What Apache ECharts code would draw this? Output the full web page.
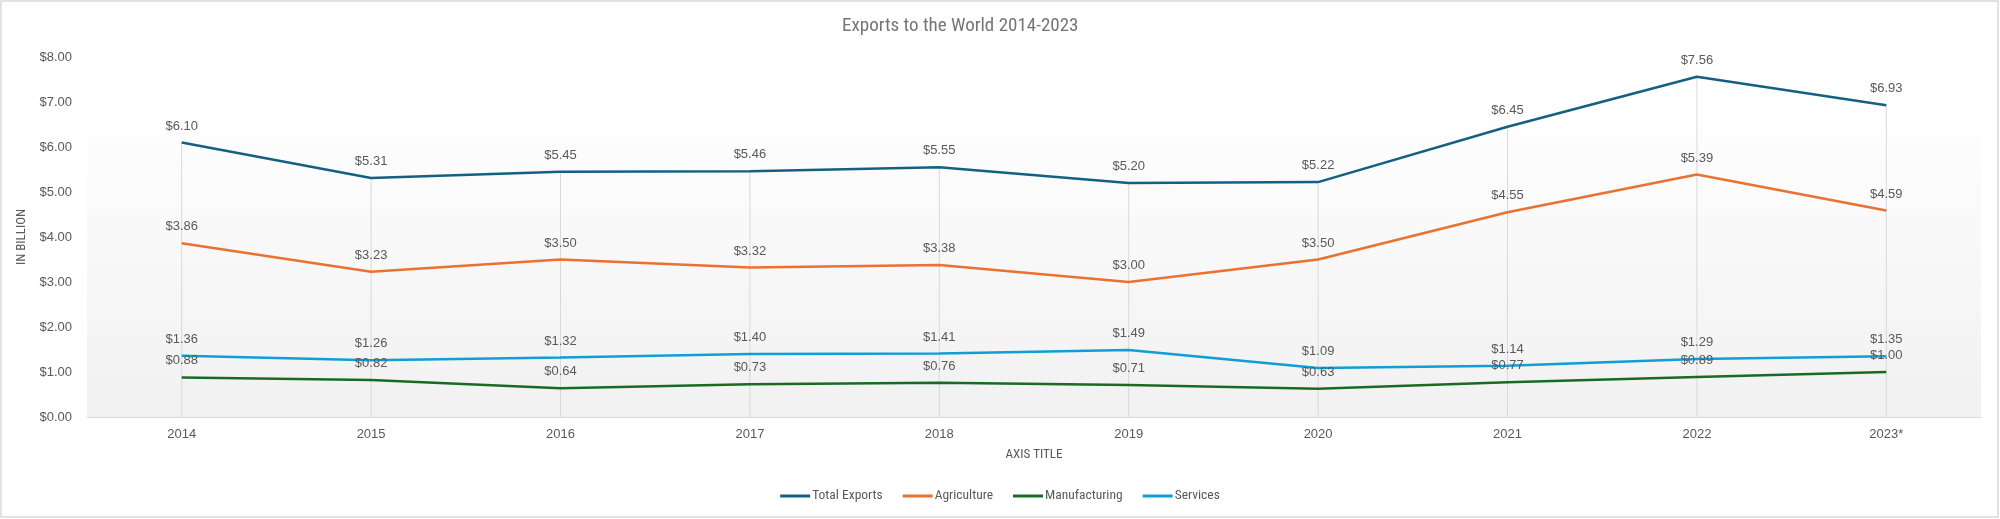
<!DOCTYPE html>
<html>
<head>
<meta charset="utf-8">
<script src="https://cdn.jsdelivr.net/npm/echarts@6/dist/echarts.min.js"></script>
<style>
html,body{margin:0;padding:0;background:#fff;}
#chart{width:2000px;height:519px;}
</style>
</head>
<body>
<div id="chart"></div>
<script>
const categories = ['2014','2015','2016','2017','2018','2019','2020','2021','2022','2023*'];
const totalExports = [6.10, 5.31, 5.45, 5.46, 5.55, 5.20, 5.22, 6.45, 7.56, 6.93];
const agriculture = [3.86, 3.23, 3.50, 3.32, 3.38, 3.00, 3.50, 4.55, 5.39, 4.59];
const manufacturing = [0.88, 0.82, 0.64, 0.73, 0.76, 0.71, 0.63, 0.77, 0.89, 1.00];
const services = [1.36, 1.26, 1.32, 1.40, 1.41, 1.49, 1.09, 1.14, 1.29, 1.35];
const seriesNames = ['Total Exports','Agriculture','Manufacturing','Services'];
const seriesColors = ['#156082','#E97132','#196B24','#0F9ED5'];

// drop lines: from the highest series point at each category down to the axis
const dropLineTops = categories.map((c, i) =>
  Math.max(totalExports[i], agriculture[i], manufacturing[i], services[i]));

const narrow = "'Liberation Sans Narrow', 'Roboto Condensed', Roboto, sans-serif";
const labelFont = "'Liberation Sans', Arial, sans-serif";

function mkSeries(name, data, color) {
  return {
    name: name,
    type: 'line',
    data: data,
    symbol: 'circle',
    symbolSize: 0,
    showSymbol: true,
    z: 3,
    lineStyle: {color: color, width: 2.5},
    itemStyle: {color: color},
    label: {
      show: true,
      position: 'top',
      distance: 10,
      color: '#595959',
      fontFamily: labelFont,
      fontSize: 13,
      formatter: p => '$' + Number(p.value).toFixed(2)
    },
    emphasis: {disabled: true},
    animation: false
  };
}

const chart = echarts.init(document.getElementById('chart'));
chart.setOption({
  backgroundColor: '#fff',
  animation: false,
  title: {
    text: 'Exports to the World 2014-2023',
    left: 837,
    top: 12,
    textStyle: {fontFamily: narrow, fontSize: 19, fontWeight: 'normal', color: '#757575'}
  },
  legend: {
    data: seriesNames,
    top: 484,
    left: 'center',
    icon: 'rect',
    itemWidth: 30,
    itemHeight: 3,
    itemGap: 20,
    textStyle: {fontFamily: narrow, fontSize: 13.5, color: '#595959', padding: [0, 0, 0, -3]}
  },
  grid: {
    left: 87, right: 19, top: 57, bottom: 102,
    show: true,
    borderWidth: 0,
    backgroundColor: {
      type: 'linear', x: 0, y: 0, x2: 0, y2: 1,
      colorStops: [
        {offset: 0, color: '#ffffff'},
        {offset: 0.17, color: '#fefefe'},
        {offset: 1, color: '#f1f1f1'}
      ]
    }
  },
  xAxis: {
    type: 'category',
    data: categories,
    boundaryGap: true,
    name: 'AXIS TITLE',
    nameLocation: 'middle',
    nameGap: 31,
    nameTextStyle: {fontFamily: narrow, fontSize: 13, color: '#595959'},
    axisLine: {show: true, lineStyle: {color: '#d9d9d9', width: 1}},
    axisTick: {show: false},
    axisLabel: {color: '#595959', fontFamily: labelFont, fontSize: 13, margin: 11},
    splitLine: {show: false}
  },
  yAxis: {
    type: 'value',
    min: 0,
    max: 8,
    interval: 1,
    name: 'IN BILLION',
    nameLocation: 'middle',
    nameRotate: 90,
    nameGap: 47,
    nameTextStyle: {fontFamily: narrow, fontSize: 13, color: '#595959'},
    axisLine: {show: false},
    axisTick: {show: false},
    axisLabel: {color: '#595959', fontFamily: labelFont, fontSize: 13, margin: 15,
      formatter: v => '$' + v.toFixed(2)},
    splitLine: {show: false}
  },
  graphic: [{
    type: 'rect',
    shape: {x: 1, y: 1, width: 1997, height: 516},
    style: {fill: 'none', stroke: '#d9d9d9', lineWidth: 1.5},
    silent: true,
    z: 100
  }],
  series: [
    {
      name: 'dropLines',
      type: 'bar',
      data: dropLineTops,
      barWidth: 1,
      z: 1,
      itemStyle: {color: '#d9d9d9'},
      label: {show: false},
      emphasis: {disabled: true},
      tooltip: {show: false},
      animation: false
    },
    mkSeries(seriesNames[0], totalExports, seriesColors[0]),
    mkSeries(seriesNames[1], agriculture, seriesColors[1]),
    mkSeries(seriesNames[2], manufacturing, seriesColors[2]),
    mkSeries(seriesNames[3], services, seriesColors[3])
  ]
});
</script>
</body>
</html>
